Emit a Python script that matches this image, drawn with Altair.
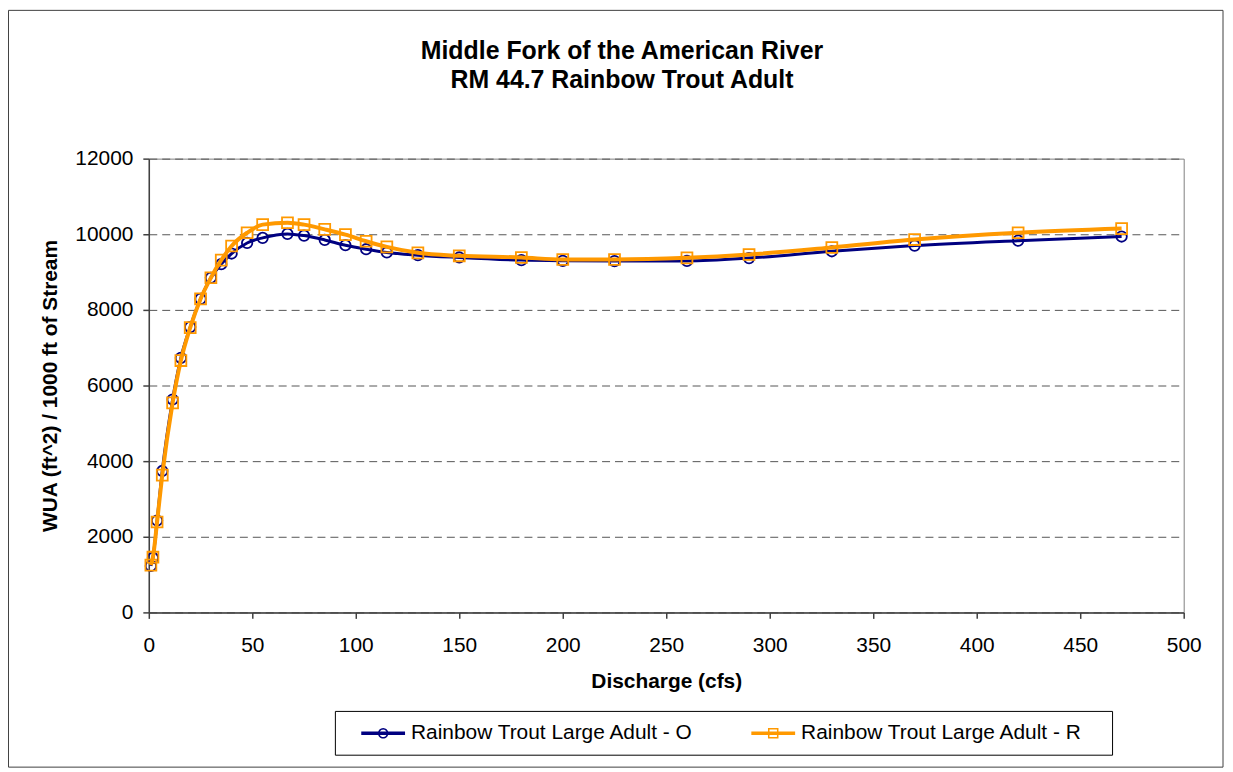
import math
import altair as alt
import pandas as pd

# ---------------- data ----------------
discharge = [1, 2, 4, 6.5, 11.5, 15.5, 20, 25, 30, 35, 40, 47.5, 55, 67, 75, 85,
             95, 105, 115, 130, 150, 180, 200, 225, 260, 290, 330, 370, 420, 470]
wua_o = [1230, 1440, 2430, 3740, 5630, 6730, 7545, 8290, 8850, 9210, 9490, 9770,
         9905, 10010, 9965, 9850, 9710, 9605, 9518, 9447, 9386, 9316, 9298, 9290,
         9295, 9370, 9550, 9700, 9830, 9940]
wua_r = [1250, 1460, 2390, 3630, 5540, 6660, 7530, 8290, 8850, 9315, 9690, 10040,
         10255, 10305, 10255, 10130, 9990, 9815, 9666, 9509, 9430, 9386, 9333, 9333,
         9377, 9465, 9650, 9860, 10040, 10150]
series_names = ["Rainbow Trout Large Adult - O", "Rainbow Trout Large Adult - R"]
series_colors = ["#000080", "#FF9900"]
x_ticks = list(range(0, 501, 50))
y_ticks = list(range(0, 12001, 2000))
chart_title = ["Middle Fork of the American River", "RM 44.7 Rainbow Trout Adult"]
x_title = "Discharge (cfs)"
y_title = "WUA (ft^2) / 1000 ft of Stream"

df = pd.DataFrame({
    "Discharge": discharge + discharge,
    "WUA": wua_o + wua_r,
    "Series": [series_names[0]] * len(discharge) + [series_names[1]] * len(discharge),
})

FONT = "Liberation Sans"
W, H = 1040, 456

# ---------------- legend symbols (line + marker) ----------------
def ring(r, n, ccw):
    pts = []
    for k in range(n):
        a = 2 * math.pi * k / n
        if ccw:
            a = -a
        pts.append(f"{r * math.cos(a):.4f},{r * math.sin(a):.4f}")
    return "M" + "L".join(pts) + "Z"

line_seg = "M-1,-0.08L1,-0.08L1,0.08L-1,0.08Z"
circle_sym = line_seg + ring(0.24, 32, False) + ring(0.17, 32, True)
square_sym = (line_seg + "M-0.24,-0.24L0.24,-0.24L0.24,0.24L-0.24,0.24Z"
              + "M-0.17,-0.17L-0.17,0.17L0.17,0.17L0.17,-0.17Z")

# ---------------- encodings ----------------
X = alt.X("Discharge:Q",
          scale=alt.Scale(domain=[0, 500], nice=False, zero=False),
          title=x_title,
          axis=alt.Axis(values=x_ticks, format="d", grid=False,
                        labelFont=FONT, labelFontSize=21, labelColor="black",
                        labelPadding=16, labelFlush=False, labelOverlap=False,
                        tickSize=6, tickColor="#404040", tickWidth=1.5,
                        domainColor="#404040", domainWidth=1.5,
                        titleFont=FONT, titleFontSize=21, titleFontWeight="bold",
                        titleColor="black", titleX=520, titleY=69,
                        titleBaseline="middle"))
Y = alt.Y("WUA:Q",
          scale=alt.Scale(domain=[0, 12000], nice=False),
          title=y_title,
          axis=alt.Axis(values=y_ticks, format="d", grid=True,
                        gridDash=[8, 5], gridColor="#555555", gridWidth=1,
                        labelFont=FONT, labelFontSize=21, labelColor="black",
                        labelPadding=10, labelFlush=False,
                        tickSize=6, tickColor="#404040", tickWidth=1.5,
                        domainColor="#404040", domainWidth=1.5,
                        titleFont=FONT, titleFontSize=21, titleFontWeight="bold",
                        titleColor="black", titleX=-98.5, titleY=228,
                        titleAngle=270, titleBaseline="middle"))

frame_data = alt.Data(values=[{"k": 0}])
outer_frame = alt.Chart(frame_data).mark_rect(
    fillOpacity=0, stroke="#404040", strokeWidth=1
).encode(x=alt.value(-141), x2=alt.value(1079.5), y=alt.value(-149), y2=alt.value(611.5))

legend_box = alt.Chart(frame_data).mark_rect(
    fill="white", stroke="black", strokeWidth=1
).encode(x=alt.value(187.5), x2=alt.value(968.5), y=alt.value(555.5), y2=alt.value(599.5))

layers = [outer_frame, legend_box]
for name, color, shape, lw, size in zip(series_names, series_colors,
                                         ["circle", "square"], [3, 4], [110, 120]):
    base = alt.Chart(df).transform_filter(alt.datum.Series == name)
    layers.append(base.mark_line(color=color, strokeWidth=lw,
                                 interpolate="monotone").encode(x=X, y=Y))
    layers.append(base.mark_point(shape=shape, filled=False, color=color,
                                  size=size, strokeWidth=1.8, opacity=1).encode(x=X, y=Y))

leg = dict(orient="none", legendX=213.5, legendY=555.5, direction="horizontal",
           columns=2, columnPadding=57, title=None, labelFont=FONT,
           labelFontSize=21, labelColor="black", labelLimit=600, labelOffset=6,
           symbolSize=1936, symbolStrokeWidth=0, symbolOpacity=1, padding=0)
legend_layer = alt.Chart(df).transform_filter("datum.WUA < 0").mark_point(
    filled=True, size=1936, opacity=1
).encode(
    color=alt.Color("Series:N", scale=alt.Scale(domain=series_names, range=series_colors),
                    legend=alt.Legend(**leg)),
    shape=alt.Shape("Series:N", scale=alt.Scale(domain=series_names, range=[circle_sym, square_sym]),
                    legend=alt.Legend(**leg)),
)
layers.append(legend_layer)

chart = alt.layer(*layers).properties(
    width=W, height=H,
    title=alt.TitleParams(text=chart_title, anchor="middle", frame="group",
                          font=FONT, fontSize=25, fontWeight="bold", color="black",
                          lineHeight=30, baseline="middle", offset=0, dx=-44.5, dy=96),
    autosize=alt.AutoSizeParams(type="none"),
    padding={"left": 141.5, "top": 149.5, "right": 41.5, "bottom": 156.5},
    background="white",
).configure_view(stroke="#808080", strokeWidth=1)

chart.save("out.html", embed_options={"renderer": "svg", "actions": False})
